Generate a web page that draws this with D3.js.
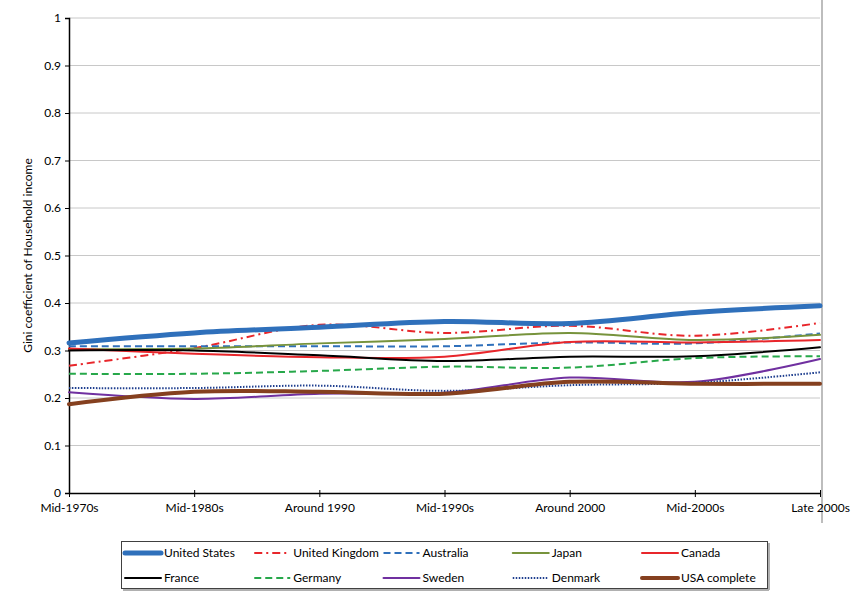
<!DOCTYPE html>
<html lang="en">
<head>
<meta charset="UTF-8">
<title>Gini coefficient of household income</title>
<script src="https://d3js.org/d3.v7.min.js"></script>
<style>
    body { margin: 0; background: #fff; font-family: Lato, 'Open Sans', sans-serif; }
    svg { display: block; }
    .tick-label { font-size: 12px; fill: #000; }
</style>
</head>
<body>
<svg id="chart" width="863" height="609"></svg>
<script>
// categories on the x axis
const periods = ["Mid-1970s", "Mid-1980s", "Around 1990", "Mid-1990s", "Around 2000", "Mid-2000s", "Late 2000s"];
const yTicks = [0, 0.1, 0.2, 0.3, 0.4, 0.5, 0.6, 0.7, 0.8, 0.9, 1];

// Gini values
const unitedStates  = [0.316, 0.337, 0.349, 0.361, 0.357, 0.380, 0.394];
const unitedKingdom = [0.268, 0.305, 0.354, 0.337, 0.352, 0.331, 0.358];
const australia     = [0.309, 0.309, 0.309, 0.309, 0.317, 0.315, 0.336];
const japan         = [0.303, 0.304, 0.315, 0.324, 0.337, 0.322, 0.333];
const canada        = [0.304, 0.293, 0.286, 0.287, 0.318, 0.317, 0.322];
const france        = [0.300, 0.300, 0.290, 0.278, 0.287, 0.288, 0.307];
const germany       = [0.251, 0.251, 0.257, 0.266, 0.264, 0.284, 0.288];
const sweden        = [0.212, 0.198, 0.209, 0.211, 0.243, 0.234, 0.282];
const denmark       = [0.221, 0.221, 0.226, 0.215, 0.227, 0.232, 0.254];
const usaComplete   = [0.187, 0.213, 0.213, 0.209, 0.234, 0.230, 0.230];

const series = [
    { name: "United States",  values: unitedStates,  color: "#2f70bb", width: 5,   dash: null },
    { name: "United Kingdom", values: unitedKingdom, color: "#e8262b", width: 2,   dash: "8,4,2,4" },
    { name: "Australia",      values: australia,     color: "#2f70bb", width: 2,   dash: "7,4" },
    { name: "Japan",          values: japan,         color: "#77933c", width: 2,   dash: null },
    { name: "Canada",         values: canada,        color: "#e8262b", width: 2,   dash: null },
    { name: "France",         values: france,        color: "#000000", width: 2,   dash: null },
    { name: "Germany",        values: germany,       color: "#27a84a", width: 2,   dash: "7,4" },
    { name: "Sweden",         values: sweden,        color: "#7030a0", width: 2,   dash: null },
    { name: "Denmark",        values: denmark,       color: "#1f3f8f", width: 2,   dash: "1.5,1.5" },
    { name: "USA complete",   values: usaComplete,   color: "#85401f", width: 4,   dash: null }
];

const svg = d3.select("#chart");
const plotLeft = 69, plotRight = 820, plotTop = 18, plotBottom = 493;

const x = d3.scalePoint().domain(periods).range([plotLeft, plotRight]);
const y = d3.scaleLinear().domain([0, 1]).range([plotBottom, plotTop]);

// gridlines
svg.append("g").selectAll("line")
    .data(yTicks.filter(d => d > 0))
    .enter().append("line")
    .attr("x1", plotLeft).attr("x2", plotRight)
    .attr("y1", d => y(d)).attr("y2", d => y(d))
    .attr("stroke", "#c8c8c8").attr("stroke-width", 1);

// right edge of plot
svg.append("line")
    .attr("x1", plotRight + 2).attr("x2", plotRight + 2)
    .attr("y1", 0).attr("y2", plotBottom + 30)
    .attr("stroke", "#bdbdbd").attr("stroke-width", 2);

// y axis
const yAxis = d3.axisLeft(y).tickValues(yTicks).tickSize(4).tickFormat(d3.format("~g"));
const gy = svg.append("g").attr("transform", `translate(${plotLeft},0)`).call(yAxis);
gy.select(".domain").attr("stroke", "#000").attr("stroke-width", 1.5);
gy.selectAll(".tick text").attr("class", "tick-label").attr("x", -8).style("font-family", "Lato, sans-serif");

// x axis
const xAxis = d3.axisBottom(x).tickSize(4).tickSizeOuter(0);
const gx = svg.append("g").attr("transform", `translate(0,${plotBottom})`).call(xAxis);
gx.select(".domain").attr("stroke", "#000").attr("stroke-width", 1.5);
gx.selectAll(".tick line").attr("y1", -3);
gx.selectAll(".tick text").attr("class", "tick-label").attr("y", 10).style("font-family", "Lato, sans-serif");

// y axis title
svg.append("text")
    .attr("transform", `translate(32,${(plotTop + plotBottom) / 2}) rotate(-90)`)
    .attr("text-anchor", "middle")
    .style("font-size", "12px")
    .text("Gini coefficient of Household income");

// lines, smoothed like the original
const line = d3.line()
    .x((d, i) => x(periods[i]))
    .y(d => y(d))
    .curve(d3.curveCatmullRom);

// thin lines first, thick ones on top
const drawOrder = [1, 2, 3, 4, 5, 6, 7, 8, 0, 9];
svg.append("g").selectAll("path")
    .data(drawOrder.map(i => series[i]))
    .enter().append("path")
    .attr("d", d => line(d.values))
    .attr("fill", "none")
    .attr("stroke", d => d.color)
    .attr("stroke-width", d => d.width)
    .attr("stroke-dasharray", d => d.dash)
    .attr("stroke-linecap", d => d.dash ? "butt" : "round");

// legend
const legend = svg.append("g");
legend.append("rect")
    .attr("x", 121.5).attr("y", 541.5)
    .attr("width", 646).attr("height", 47)
    .attr("fill", "#fff").attr("stroke", "#404040").attr("stroke-width", 1);
legend.append("line")
    .attr("x1", 123).attr("x2", 769).attr("y1", 590).attr("y2", 590)
    .attr("stroke", "#b0b0b0").attr("stroke-width", 2);
legend.append("line")
    .attr("x1", 769).attr("x2", 769).attr("y1", 543).attr("y2", 590)
    .attr("stroke", "#b0b0b0").attr("stroke-width", 2);

const colX = d3.scaleLinear().domain([0, 4]).range([125, 642]);
const rowY = d3.scaleLinear().domain([0, 1]).range([553, 578]);

const items = legend.selectAll("g.item")
    .data(series)
    .enter().append("g")
    .attr("class", "item")
    .attr("transform", (d, i) => `translate(${colX(i % 5)},${rowY(Math.floor(i / 5))})`);

items.append("line")
    .attr("x1", 0).attr("x2", 36)
    .attr("stroke", d => d.color)
    .attr("stroke-width", d => d.width)
    .attr("stroke-dasharray", d => d.dash)
    .attr("stroke-linecap", d => d.dash ? "butt" : "round");

items.append("text")
    .attr("x", 39).attr("dy", "0.35em")
    .style("font-size", "12px")
    .text(d => d.name);
</script>
</body>
</html>
